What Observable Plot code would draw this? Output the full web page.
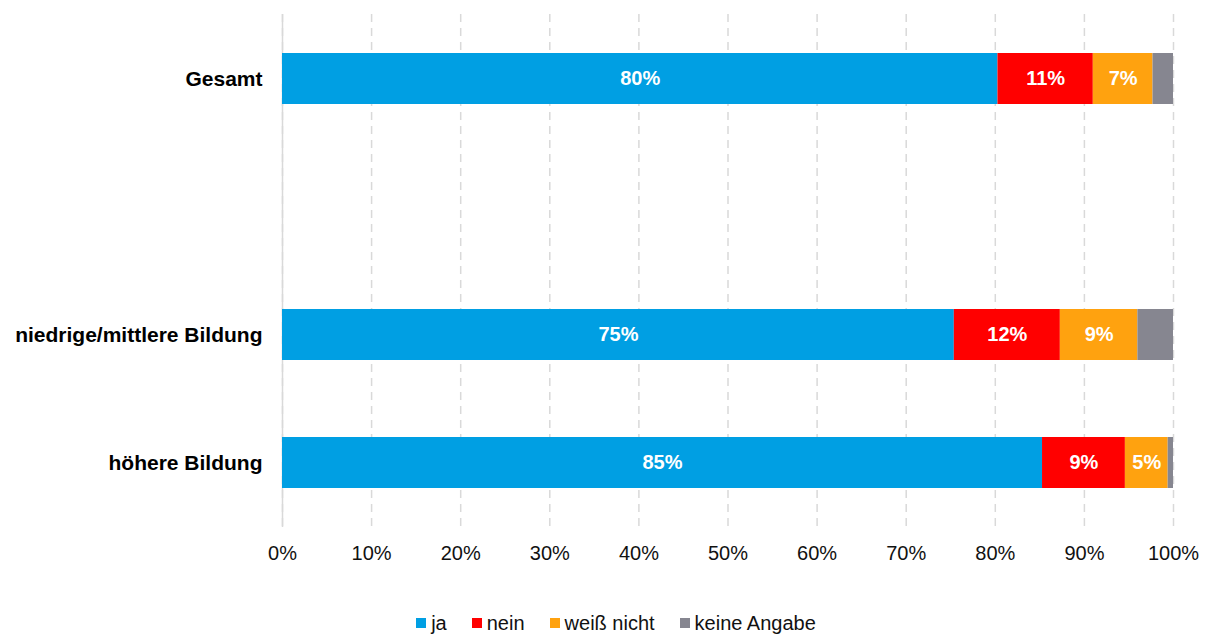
<!DOCTYPE html>
<html>
<head>
<meta charset="utf-8">
<script src="https://cdn.jsdelivr.net/npm/d3@7"></script>
<script src="https://cdn.jsdelivr.net/npm/@observablehq/plot@0.6"></script>
<style>
  body { margin: 0; background: #fff; font-family: "Liberation Sans", Arial, sans-serif; }
  #legend { display: flex; justify-content: center; padding-left: 23px; margin-top: 11px; line-height: 24px; font-size: 20px; color: #111; }
  .item { display: flex; align-items: center; margin-right: 25px; }
  .item:last-child { margin-right: 0; }
  .sw { width: 10px; height: 10px; margin-right: 5px; display: inline-block; }
</style>
</head>
<body>
<div id="chart"></div>
<div id="legend"></div>
<script>
const categories = ["Gesamt", "niedrige/mittlere Bildung", "höhere Bildung"];
const yDomain = ["Gesamt", "", "niedrige/mittlere Bildung", "höhere Bildung"];
const seriesNames = ["ja", "nein", "weiß nicht", "keine Angabe"];
const seriesColors = ["#009FE3", "#FF0000", "#FFA20F", "#868690"];
const ja = [80.3, 75.4, 85.3];
const nein = [10.7, 11.9, 9.3];
const weissNicht = [6.7, 8.7, 4.8];
const keineAngabe = [2.3, 4.0, 0.6];
const xTicks = [0, 10, 20, 30, 40, 50, 60, 70, 80, 90, 100];

const valueSets = [ja, nein, weissNicht, keineAngabe];
const rows = [];
seriesNames.forEach((s, si) => {
  categories.forEach((c, ci) => {
    rows.push({category: c, series: s, value: valueSets[si][ci]});
  });
});

const chart = Plot.plot({
  width: 1209,
  height: 600,
  marginTop: 14,
  marginBottom: 73,
  marginLeft: 282,
  marginRight: 36,
  style: {fontFamily: '"Liberation Sans", Arial, sans-serif', fontSize: "20px", color: "#111"},
  x: {domain: [0, 100]},
  y: {domain: yDomain, paddingInner: 0.6, paddingOuter: 0.3},
  color: {domain: seriesNames, range: seriesColors},
  marks: [
    Plot.gridX(xTicks, {stroke: "#d9d9d9", strokeOpacity: 1, strokeWidth: 1.5, strokeDasharray: "8,6"}),
    Plot.ruleX([0], {stroke: "#d9d9d9", strokeWidth: 1.5}),
    Plot.barX(rows, Plot.stackX({x: "value", y: "category", fill: "series", order: seriesNames})),
    Plot.text(rows, Plot.stackX({
      filter: d => d.series !== "keine Angabe",
      x: "value", y: "category", z: "series", order: seriesNames,
      text: d => Math.round(d.value) + "%",
      fill: "white", fontWeight: "bold", fontSize: 20
    })),
    Plot.axisX(xTicks, {tickSize: 0, tickPadding: 18, fontSize: 20, tickFormat: d => d + "%", label: null, fill: "#111"}),
    Plot.axisY({tickSize: 0, tickPadding: 20, fontSize: 21, fontWeight: "bold", label: null, fill: "#000"})
  ]
});
document.getElementById("chart").appendChild(chart);

const legend = document.getElementById("legend");
seriesNames.forEach((s, i) => {
  const item = document.createElement("div");
  item.className = "item";
  const sw = document.createElement("span");
  sw.className = "sw";
  sw.style.background = seriesColors[i];
  item.appendChild(sw);
  item.appendChild(document.createTextNode(s));
  legend.appendChild(item);
});
</script>
</body>
</html>
